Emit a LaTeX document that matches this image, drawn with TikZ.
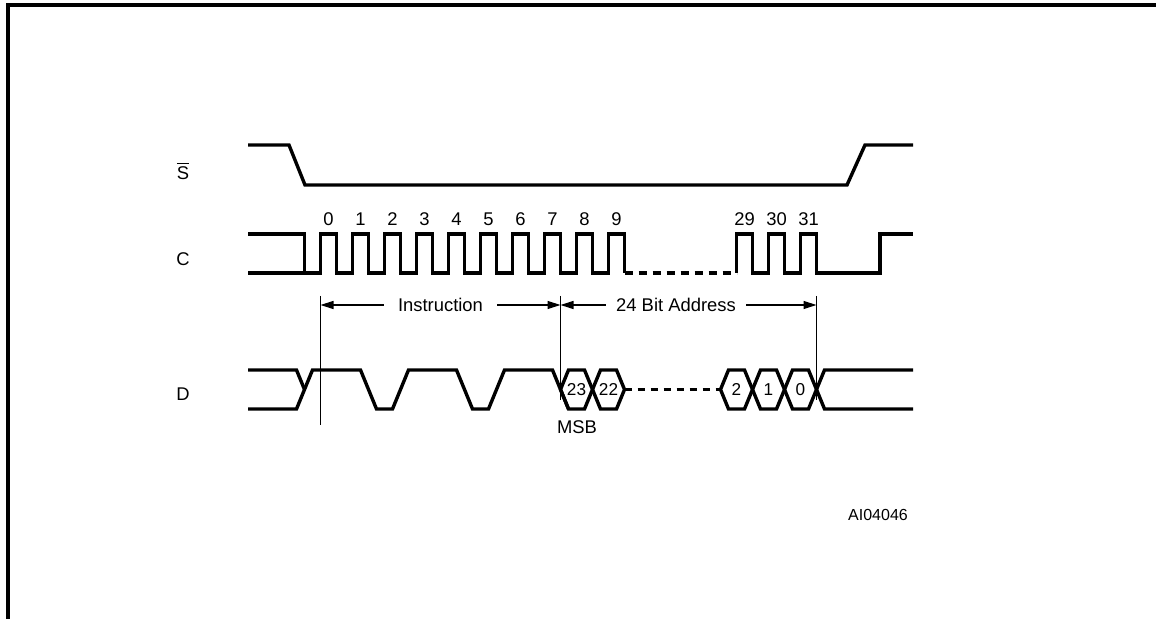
\documentclass[tikz,border=0pt]{standalone}
\usepackage{fontspec}
\setmainfont{Liberation Sans}
\usetikzlibrary{arrows.meta}
\tikzset{
  wave/.style={line width=1.7pt},
  tick/.style={line width=0.7pt},
  dim/.style={line width=0.6pt,-{Triangle[length=6.5pt,width=4pt]}},
  lbl/.style={font=\fontsize{9.2}{11}\selectfont,inner sep=1pt},
  bitlbl/.style={font=\fontsize{8.6}{10}\selectfont,inner sep=0.5pt},
}
\begin{document}
\begin{tikzpicture}[x=0.5pt,y=-0.5pt]
\useasboundingbox (0,0) rectangle (1156,619);
\draw[line width=1.6pt] (8,619)--(8,5)--(1156,5);

% signal names
\node[lbl](sname)at(183,171){$\overline{\mbox{S}}$};
\node[lbl](cname)at(183,259){C};
\node[lbl](dname)at(183,394){D};

% chip select
\draw[wave](248,145)--(289,145)--(305,185)--(847,185)--(865,145)--(913,145);

% clock
\draw[wave](248,234)--(304.5,234)--(304.5,273);
\draw[wave](248,273)--(304.5,273)
  \foreach \k in {0,...,9}{--(320.5+32*\k,273)--++(0,-39)--++(16,0)--++(0,39)};
\draw[wave,dash pattern=on 4pt off 3pt](624.5,273)--(736.5,273);
\draw[wave](736.5,273)
  \foreach \k in {13,14,15}{--(320.5+32*\k,273)--++(0,-39)--++(16,0)--++(0,39)}
  --(880,273)--(880,234)--(913,234);
\foreach \k in {0,...,9}
  \node[lbl](c\k)at(328.5+32*\k,219){\k};
\foreach \k/\n in {13/29,14/30,15/31}
  \node[lbl](c\n)at(328.5+32*\k,219){\n};

% data in
\draw[wave](248,370)--(296.5,370)--(304.5,389.5);
\draw[wave](248,409)--(296.5,409)--(312.5,370)--(360.5,370)--(376.5,409)
  --(392.5,409)--(408.5,370)--(456.5,370)--(472.5,409)--(488.5,409)
  --(504.5,370)--(552.5,370)--(568.5,409);
\foreach \b/\n in {560.5/23,592.5/22,720.5/2,752.5/1,784.5/0}{
  \draw[wave](\b,389.5)--++(8,-19.5)--++(16,0)--++(8,19.5)--++(-8,19.5)--++(-16,0)--cycle;
  \node[bitlbl](a\n)at(\b+16,389.5){\n};
}
\draw[wave,dash pattern=on 3.5pt off 3pt](624.5,389.5)--(720.5,389.5);
\draw[wave](913,370)--(824.5,370)--(816.5,389.5)--(824.5,409)--(913,409);

% timing marks
\coordinate(l0)at(320.5,305);
\coordinate(l1)at(560.5,305);
\coordinate(l2)at(816.5,305);
\draw[tick](320.5,296)--(320.5,425);
\draw[tick](560.5,296)--(560.5,400);
\draw[tick](816.5,296)--(816.5,400);
\node[lbl,inner xsep=7pt](ins)at(440.5,305){Instruction};
\draw[dim](ins)--(l0);
\draw[dim](ins)--(l1);
\node[lbl,inner xsep=5pt](adr)at(676,305){24 Bit Address};
\draw[dim](adr)--(l1);
\draw[dim](adr)--(l2);

\node[lbl](msb)at(577,427){MSB};
\node[bitlbl,font=\fontsize{8}{10}\selectfont](code)at(878,515){AI04046};
\end{tikzpicture}
\end{document}
